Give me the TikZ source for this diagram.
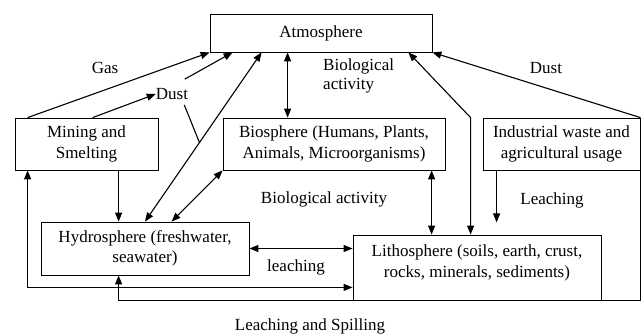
\documentclass[tikz,border=0pt]{standalone}
\usepackage{fontspec}
\setmainfont{Liberation Serif}
\newfontfamily\tnr{Liberation Serif}
\usetikzlibrary{arrows.meta,calc}
\begin{document}
\begin{tikzpicture}[x=1pt,y=-1pt,
  box/.style={draw,line width=0.8pt,align=center,inner sep=0pt,font=\tnr\fontsize{17}{20.5}\selectfont},
  lbl/.style={font=\tnr\fontsize{17}{19}\selectfont,inner sep=0pt},
  conn/.style={line width=1.1pt},
  arr/.style={conn,-{Triangle[length=9pt,width=7pt]}},
  darr/.style={conn,{Triangle[length=9pt,width=7pt]}-{Triangle[length=9pt,width=7pt]}}]
\useasboundingbox (0,0) rectangle (641,334);

% boxes
\node[box,minimum width=222pt,minimum height=38pt] (atmo) at (321,33) {Atmosphere};
\node[box,minimum width=143pt,minimum height=52pt] (mine) at (86.5,144) {Mining and\\Smelting};
\node[box,minimum width=222pt,minimum height=52pt] (bio) at (334,144) {Biosphere (Humans, Plants,\\Animals, Microorganisms)};
\node[box,minimum width=157pt,minimum height=52pt] (ind) at (561.5,144) {Industrial waste and\\agricultural usage};
\node[box,minimum width=208pt,minimum height=53pt] (hydro) at (145,248.5) {Hydrosphere (freshwater,\\seawater)};
\node[box,minimum width=248pt,minimum height=65pt] (litho) at (477,267.5) {Lithosphere (soils, earth, crust,\\rocks, minerals, sediments)\\[-8pt]\mbox{}};

% labels
\node[lbl] (gas) at (105,68) {Gas};
\node[lbl] (dust1) at (172,94) {Dust};
\node[lbl,align=left,anchor=west] (bioact1) at (323,76) {Biological\\activity};
\node[lbl] (dust2) at (546,68) {Dust};
\node[lbl] (bioact2) at (324,199) {Biological activity};
\node[lbl] (leach1) at (296,267) {leaching};
\node[lbl] (leach2) at (552,200) {Leaching};
\node[lbl] (spill) at (310,326) {Leaching and Spilling};

% connectors
\draw[arr] ($(mine.north west)+(13,0)$) -- (atmo.south west);
\draw[arr] ($(mine.north west)+(78,0)$) -- (dust1.west);
\draw[arr] ($(dust1.north east)+(-3.5,-9)$) -- ($(atmo.south west)+(23,0)$);
\draw[darr] (hydro.north) -- ($(atmo.south west)+(52,0)$);
\draw[conn] ($(dust1.south east)+(-4,5)$) -- ($(hydro.north)!0.467!($(atmo.south west)+(52,0)$)$);
\draw[darr] ($(atmo.south west)+(78,0)$) -- ($(bio.north west)+(65,0)$);
\draw[darr] ($(litho.north west)+(118,0)$) -- ($(ind.north west)+(-12,0)$) -- ($(atmo.south east)+(-24,0)$);
\draw[arr] (ind.north east) -- (atmo.south east);
\draw[darr] ($(bio.south west)+(209,0)$) -- ($(litho.north west)+(79,0)$);
\coordinate (leachEnd) at ($(ind.south west)+(14,52)$);
\draw[arr] ($(ind.south west)+(14,0)$) -- (leachEnd);
\draw[arr] ($(mine.south west)+(104,0)$) -- ($(hydro.north west)+(78,0)$);
\draw[darr] (bio.south west) -- ($(hydro.north west)+(131,0)$);
\draw[darr] (hydro.east) -- (hydro.east -| litho.west);
\draw[darr] ($(mine.south west)+(13,0)$) |- ($(litho.south west)+(0,-13)$);
\draw[arr] (ind.south east) |- ($(hydro.south west)+(78,25)$) -- ($(hydro.south west)+(78,0)$);
\end{tikzpicture}
\end{document}
